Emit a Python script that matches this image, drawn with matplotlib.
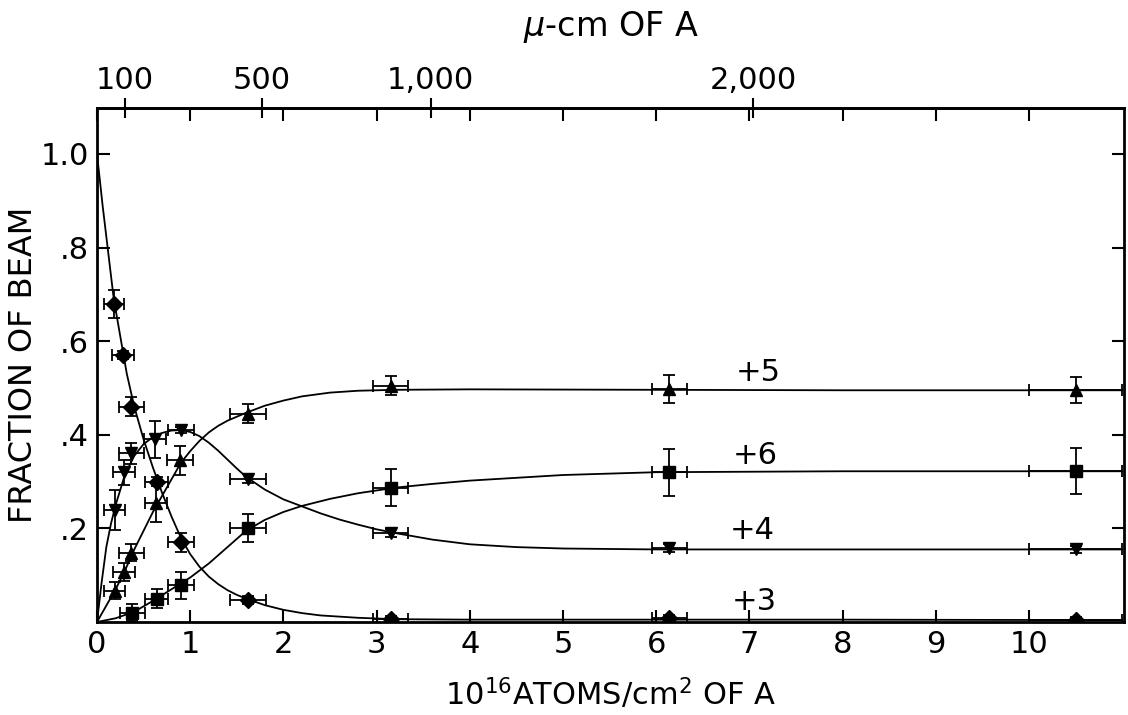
import matplotlib.pyplot as plt
import numpy as np

plt.rcParams['font.family'] = ['DejaVu Sans']
plt.rcParams['mathtext.default'] = 'regular'

# measured points (10^16 atoms/cm^2, fraction of beam)
x3 = [0.18, 0.28, 0.37, 0.64, 0.90, 1.62, 3.15, 6.14, 10.5]
y3 = [0.68, 0.57, 0.46, 0.30, 0.17, 0.047, 0.006, 0.008, 0.005]
ey3 = [0.03, 0.008, 0.02, 0.01, 0.02, 0.008, 0.006, 0.008, 0.006]

x4 = [0.19, 0.29, 0.37, 0.62, 0.90, 1.62, 3.15, 6.14, 10.5]
y4 = [0.24, 0.32, 0.36, 0.39, 0.41, 0.306, 0.19, 0.158, 0.155]
ey4 = [0.043, 0.027, 0.023, 0.04, 0.007, 0.01, 0.008, 0.008, 0.008]

x5 = [0.19, 0.29, 0.37, 0.63, 0.89, 1.62, 3.15, 6.14, 10.5]
y5 = [0.067, 0.107, 0.148, 0.255, 0.345, 0.445, 0.505, 0.497, 0.495]
ey5 = [0.018, 0.02, 0.018, 0.041, 0.03, 0.02, 0.02, 0.03, 0.028]

x6 = [0.38, 0.64, 0.90, 1.62, 3.15, 6.14, 10.5]
y6 = [0.02, 0.05, 0.078, 0.20, 0.287, 0.32, 0.322]
ey6 = [0.018, 0.02, 0.028, 0.03, 0.04, 0.05, 0.049]

ex9 = [0.11, 0.12, 0.13, 0.12, 0.14, 0.19, 0.19, 0.19, 0.5]
ex7 = [0.13, 0.12, 0.14, 0.19, 0.19, 0.19, 0.5]

# hand-drawn curves
c3x = [0, 0.06, 0.12, 0.18, 0.25, 0.32, 0.4, 0.5, 0.6, 0.7, 0.8, 0.9, 1.0, 1.1, 1.2, 1.3, 1.4, 1.5, 1.6, 1.8, 2.0, 2.2, 2.4, 2.8, 3.2, 4, 6, 8, 11]
c3y = [1.0, 0.89, 0.79, 0.69, 0.61, 0.53, 0.46, 0.39, 0.33, 0.275, 0.225, 0.18, 0.145, 0.118, 0.097, 0.081, 0.068, 0.058, 0.05, 0.036, 0.026, 0.019, 0.014, 0.009, 0.006, 0.005, 0.005, 0.005, 0.004]

c4x = [0, 0.05, 0.1, 0.15, 0.2, 0.3, 0.4, 0.5, 0.6, 0.7, 0.8, 0.9, 1.0, 1.1, 1.2, 1.3, 1.4, 1.5, 1.6, 1.8, 2.0, 2.2, 2.4, 2.6, 2.8, 3.0, 3.2, 3.6, 4, 4.5, 5, 6, 8, 11]
c4y = [0, 0.085, 0.16, 0.21, 0.25, 0.315, 0.355, 0.38, 0.395, 0.404, 0.409, 0.41, 0.406, 0.397, 0.383, 0.366, 0.347, 0.328, 0.31, 0.283, 0.262, 0.247, 0.232, 0.219, 0.208, 0.198, 0.19, 0.176, 0.166, 0.16, 0.157, 0.155, 0.155, 0.155]

c5x = [0, 0.1, 0.2, 0.3, 0.4, 0.5, 0.6, 0.7, 0.8, 0.9, 1.0, 1.1, 1.2, 1.3, 1.4, 1.6, 1.8, 2.0, 2.2, 2.5, 2.8, 3.2, 4, 6, 8, 11]
c5y = [0, 0.035, 0.07, 0.11, 0.155, 0.195, 0.235, 0.27, 0.305, 0.34, 0.365, 0.387, 0.405, 0.419, 0.43, 0.447, 0.462, 0.473, 0.482, 0.49, 0.494, 0.496, 0.497, 0.496, 0.495, 0.495]

c6x = [0, 0.2, 0.4, 0.6, 0.8, 1.0, 1.2, 1.4, 1.6, 1.8, 2.0, 2.2, 2.5, 2.8, 3.2, 3.6, 4, 5, 6, 8, 11]
c6y = [0, 0.008, 0.022, 0.045, 0.07, 0.095, 0.125, 0.16, 0.195, 0.218, 0.235, 0.248, 0.263, 0.275, 0.287, 0.295, 0.302, 0.314, 0.32, 0.322, 0.322]

ytick_vals = [0.2, 0.4, 0.6, 0.8, 1.0]
ytick_labels = ['.2', '.4', '.6', '.8', '1.0']
xtick_vals = list(range(11))
mu_pos = [0.30, 1.77, 3.58, 7.04]
mu_labels = ['100', '500', '1,000', '2,000']

fig = plt.figure(figsize=(11.28, 7.15), dpi=100)
ax = fig.add_axes([97/1128, 1-622/715, (1124-97)/1128, (622-108)/715])

for cx, cy in [(c3x, c3y), (c4x, c4y), (c5x, c5y), (c6x, c6y)]:
    ax.plot(cx, cy, color='black', lw=1.3)

eb = dict(color='black', ecolor='black', elinewidth=1.3, capsize=4.5, capthick=1.3, ls='none')
ax.errorbar(x3, y3, yerr=ey3, xerr=ex9, fmt='D', ms=8, **eb)
ax.errorbar(x4, y4, yerr=ey4, xerr=ex9, fmt='v', ms=9, **eb)
ax.errorbar(x5, y5, yerr=ey5, xerr=ex9, fmt='^', ms=9, **eb)
ax.errorbar(x6, y6, yerr=ey6, xerr=ex7, fmt='s', ms=8, **eb)

for lab, xx, yy in [('+5', 7.1, 0.533), ('+6', 7.06, 0.355), ('+4', 7.03, 0.195), ('+3', 7.05, 0.043)]:
    ax.text(xx, yy, lab, fontsize=22, ha='center', va='center')

ax.set_xlim(0, 11.02)
ax.set_ylim(0, 1.098)
ax.set_xticks(xtick_vals)
ax.set_xticklabels([str(v) for v in xtick_vals])
ax.set_yticks(ytick_vals)
ax.set_yticklabels(ytick_labels)
ax.tick_params(direction='in', length=9, width=1.5, labelsize=22,
               top=True, right=True, pad=6)
for s in ax.spines.values():
    s.set_linewidth(2)

ax.set_xlabel('10$^{16}$ATOMS/cm$^{2}$ OF A', fontsize=22, labelpad=12)
ax.set_ylabel('FRACTION OF BEAM', fontsize=23)
ax.yaxis.set_label_coords(-0.056, 0.5)

sec = ax.secondary_xaxis('top')
sec.set_xticks(mu_pos)
sec.set_xticklabels(mu_labels)
sec.tick_params(direction='inout', length=14, width=1.5, labelsize=22, pad=2)
sec.spines['top'].set_linewidth(2)
sec.set_xlabel('$\\mathit{\\mu}$-cm OF A', fontsize=24, labelpad=22)

fig.savefig('out.png', dpi=100)
